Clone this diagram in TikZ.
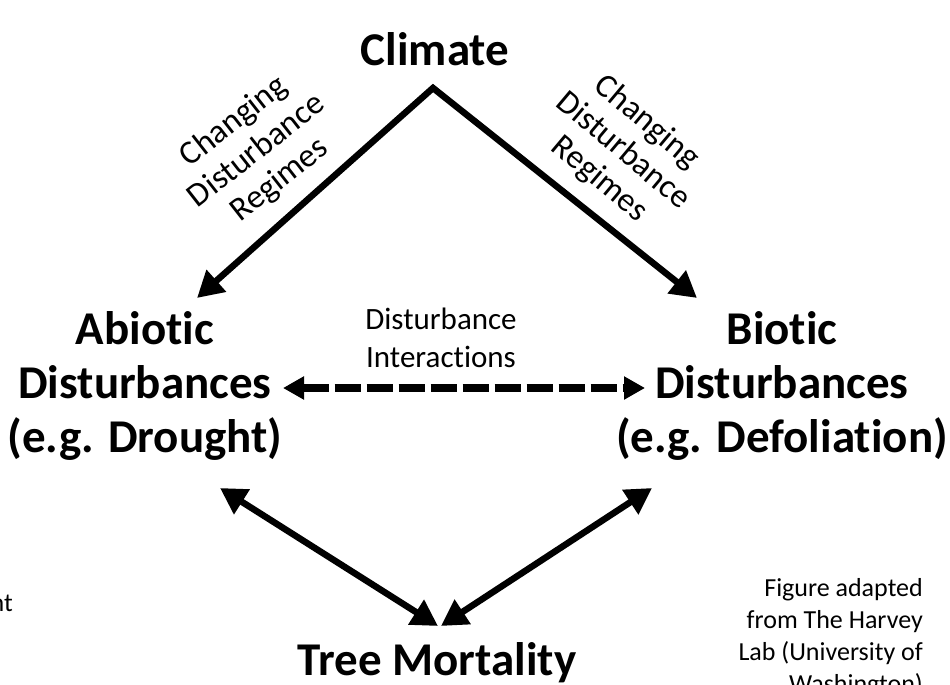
\documentclass[tikz,border=0pt]{standalone}
\usepackage{fontspec}
\setmainfont[Ligatures={NoCommon,NoContextual},Contextuals=NoAlternate]{Carlito}
\usetikzlibrary{arrows.meta}
\begin{document}
\begin{tikzpicture}[x=1pt,y=-1pt,
  big/.style={font=\fontsize{47}{54}\selectfont\bfseries, align=center, inner sep=0pt},
  small/.style={font=\fontsize{31}{38}\selectfont, align=center, inner sep=0pt},
  slanted/.style={font=\fontsize{33.5}{37}\selectfont, align=center, inner sep=0pt},
  note/.style={font=\fontsize{26}{32}\selectfont, align=right, inner sep=0pt},
  tipA/.tip={Triangle[length=26pt,width=28pt]},
  tipB/.tip={Triangle[length=21pt,width=22pt]},
  solidarrow/.style={line width=6.5pt, line join=miter},
  dasharrow/.style={line width=7.5pt, dash pattern=on 26pt off 6pt, {tipB}-{tipB}}]
\useasboundingbox (0,0) rectangle (950,685);
\clip (0,0) rectangle (950,685);

\node[big, anchor=base] (climate) at (435,66) {Climate};
\node[big, anchor=north] (abiotic) at (145,311) {Abiotic\\Disturbances\\(e.g. Drought)};
\node[big, anchor=north] (biotic) at (782,311) {Biotic\\Disturbances\\(e.g. Defoliation)};
\node[big, anchor=base] (tree) at (437,675) {Tree Mortality};
\node[small, anchor=north] (inter) at (441,308) {Disturbance\\Interactions};
\node[slanted, rotate=38] (lreg) at (257,151) {Changing\\Disturbance\\Regimes};
\node[slanted, rotate=-40] (rreg) at (623,151) {Changing\\Disturbance\\Regimes};
\node[note, anchor=north east] (credit) at (923,578) {Figure adapted\\from The Harvey\\Lab (University of\\Washington)};
\node[note, anchor=base east] (frag) at (13,611) {nt};

\coordinate (apex) at (433,88);
\coordinate (ltip) at (197,298);
\coordinate (rtip) at (697,298);
\coordinate (dl) at (283,388);
\coordinate (dr) at (645,388);
\coordinate (la) at (220,488);
\coordinate (lb) at (438,626);
\coordinate (ra) at (652,488);
\coordinate (rb) at (441,626);

\draw[solidarrow, {tipA}-{tipA}] (ltip) -- (apex) -- (rtip);
\draw[dasharrow] (dl) -- (dr);
\draw[solidarrow, {tipA}-{tipA}] (la) -- (lb);
\draw[solidarrow, {tipA}-{tipA}] (ra) -- (rb);
\end{tikzpicture}
\end{document}
